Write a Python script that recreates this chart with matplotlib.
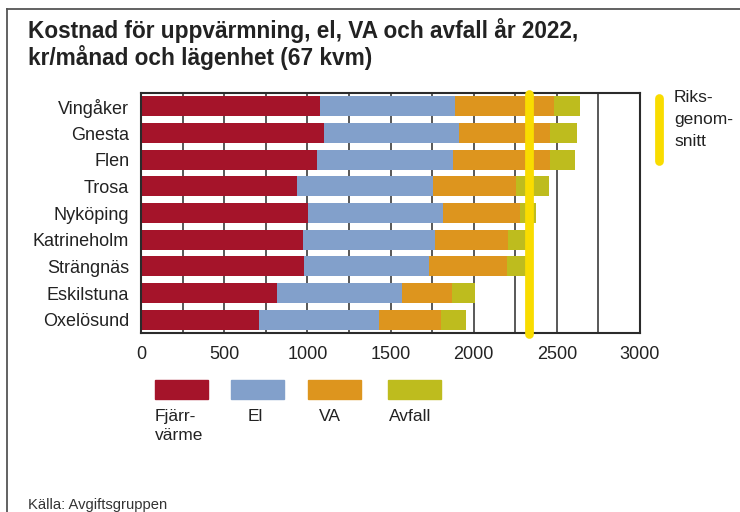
import numpy as np
import matplotlib.pyplot as plt
from matplotlib.patches import Rectangle
from matplotlib.lines import Line2D

plt.rcParams["font.family"] = ["Liberation Sans", "DejaVu Sans"]

# ---------------------------------------------------
# Data (kr/månad, 67 kvm lägenhet, 2022)
# ---------------------------------------------------
kommuner = ["Vingåker", "Gnesta", "Flen", "Trosa", "Nyköping",
            "Katrineholm", "Strängnäs", "Eskilstuna", "Oxelösund"]
fjarrvarme = [1074, 1098, 1056, 936, 1002, 972, 978, 816, 708]
el = [814, 814, 818, 818, 816, 798, 754, 756, 720]
va = [596, 548, 586, 502, 462, 438, 468, 300, 378]
avfall = [156, 162, 150, 198, 96, 112, 115, 136, 150]
riksgenomsnitt = 2332

serier = [("Fjärr-\nvärme", fjarrvarme), ("El", el), ("VA", va), ("Avfall", avfall)]
farger = ["#A5142A", "#82A0CB", "#DD951E", "#BEBC1E"]
gul = "#F9DC00"
mork = "#2b2b2b"

W, H = 740, 512
fig = plt.figure(figsize=(W / 100, H / 100), dpi=100)


def fx(px):
    return px / W


def fy(py):
    return 1 - py / H


ax = fig.add_axes([fx(141), fy(333), fx(640) - fx(141), fy(93) - fy(333)])

# ---------------------------------------------------
# Stacked bars
# ---------------------------------------------------
y = np.arange(len(kommuner))
left = np.zeros(len(kommuner))
for (namn, varden), farg in zip(serier, farger):
    ax.barh(y, varden, left=left, height=0.75, color=farg, zorder=2)
    left += np.array(varden)

ax.plot([riksgenomsnitt, riksgenomsnitt], [-0.46, 8.54], color=gul, lw=6.3,
        solid_capstyle="round", clip_on=False, zorder=5)

ax.set_xlim(0, 3000)
ax.set_ylim(8.5, -0.5)
ax.set_yticks(y)
ax.set_yticklabels(kommuner)
ax.set_xticks(np.arange(0, 3001, 500))
ax.tick_params(axis="both", length=0, labelsize=13, colors="#222222")
ax.tick_params(axis="y", pad=8.5)
ax.tick_params(axis="x", pad=9.5)

for gx in np.arange(250, 3000, 250):
    ax.axvline(gx, color=mork, lw=1.1, zorder=1)

for s in ax.spines.values():
    s.set_color(mork)
    s.set_linewidth(1.5)

# ---------------------------------------------------
# Title, frame, source
# ---------------------------------------------------
fig.text(fx(28), fy(38), "Kostnad för uppvärmning, el, VA och avfall år 2022,",
         fontsize=16.3, fontweight="bold", color="#222222", va="baseline")
fig.text(fx(28), fy(65), "kr/månad och lägenhet (67 kvm)",
         fontsize=16.3, fontweight="bold", color="#222222", va="baseline")
fig.text(fx(28), fy(509), "Källa: Avgiftsgruppen", fontsize=10.6,
         color="#333333", va="baseline")

fig.add_artist(Line2D([fx(7), fx(7)], [fy(9), 0], color="#555555", lw=1.3))
fig.add_artist(Line2D([fx(7), 1], [fy(9), fy(9)], color="#555555", lw=1.3))

# ---------------------------------------------------
# Legends
# ---------------------------------------------------
fig.add_artist(Line2D([fx(659), fx(659)], [fy(98), fy(161)], color=gul,
                      lw=6.3, solid_capstyle="round"))
fig.text(fx(674), fy(90), "Riks-\ngenom-\nsnitt", fontsize=12.5,
         color="#222222", va="top", linespacing=1.6)

patch_x = [155, 231, 308, 388]
text_x = [155, 248, 319, 389]
for (namn, _), farg, px, tx in zip(serier, farger, patch_x, text_x):
    fig.add_artist(Rectangle((fx(px), fy(399)), fx(53), fy(380) - fy(399),
                             color=farg, transform=fig.transFigure))
    fig.text(fx(tx), fy(409), namn, fontsize=12.5, color="#222222",
             va="top", linespacing=1.35)

fig.savefig("out.png", dpi=100)
